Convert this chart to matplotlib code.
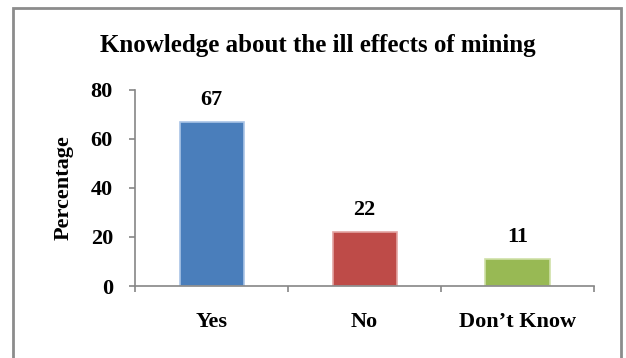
import matplotlib
matplotlib.use("Agg")
import matplotlib.pyplot as plt
from matplotlib.patches import Rectangle

categories = ["Yes", "No", "Don\u2019t Know"]
percentages = [67, 22, 11]
bar_colors = ["#4a7ebb", "#be4b48", "#98b954"]
edge_colors = ["#a9c4e6", "#e3a5a3", "#cfe0a8"]
y_ticks = [0, 20, 40, 60, 80]

plt.rcParams["font.family"] = ["Liberation Serif", "DejaVu Serif"]
plt.rcParams["font.weight"] = "bold"

fig = plt.figure(figsize=(6.26, 3.58), dpi=100)
ax = fig.add_axes([0.216, 0.201, 0.733, 0.548])

x = list(range(len(categories)))
ax.bar(x, percentages, width=0.42, color=bar_colors,
       edgecolor=edge_colors, linewidth=1.2)

for xi, v in zip(x, percentages):
    ax.annotate(str(v), (xi, v), xytext=(0, 16), textcoords="offset points",
                ha="center", va="center", fontsize=16, fontweight="bold")

ax.set_xlim(-0.5, len(categories) - 0.5)
ax.set_ylim(0, 80)
ax.set_yticks(y_ticks)
ax.set_yticklabels([str(t) for t in y_ticks], fontsize=16, fontweight="bold")

# category labels sit under the bars, tick marks go on the boundaries
ax.set_xticks(x)
ax.set_xticklabels(categories, fontsize=16, fontweight="bold")
ax.tick_params(axis="x", length=0, pad=19)
ax.set_xticks([-0.5, 0.5, 1.5, 2.5], minor=True)
ax.tick_params(axis="x", which="minor", length=4, width=1.2, color="#868686")
ax.tick_params(axis="y", length=4, width=1.2, color="#868686", pad=12)

for side in ["top", "right"]:
    ax.spines[side].set_visible(False)
for side in ["left", "bottom"]:
    ax.spines[side].set_color("#868686")
    ax.spines[side].set_linewidth(1.2)

ax.set_ylabel("Percentage", fontsize=16, fontweight="bold", labelpad=12)
fig.text(0.508, 0.872, "Knowledge about the ill effects of mining",
         ha="center", va="center", fontsize=18, fontweight="bold")

# chart frame, open at the bottom
fig.patches.append(Rectangle((0.021, -0.05), 0.971, 1.028, transform=fig.transFigure,
                             fill=False, edgecolor="#8c8c8c", linewidth=2))

fig.savefig("out.png", dpi=100)
